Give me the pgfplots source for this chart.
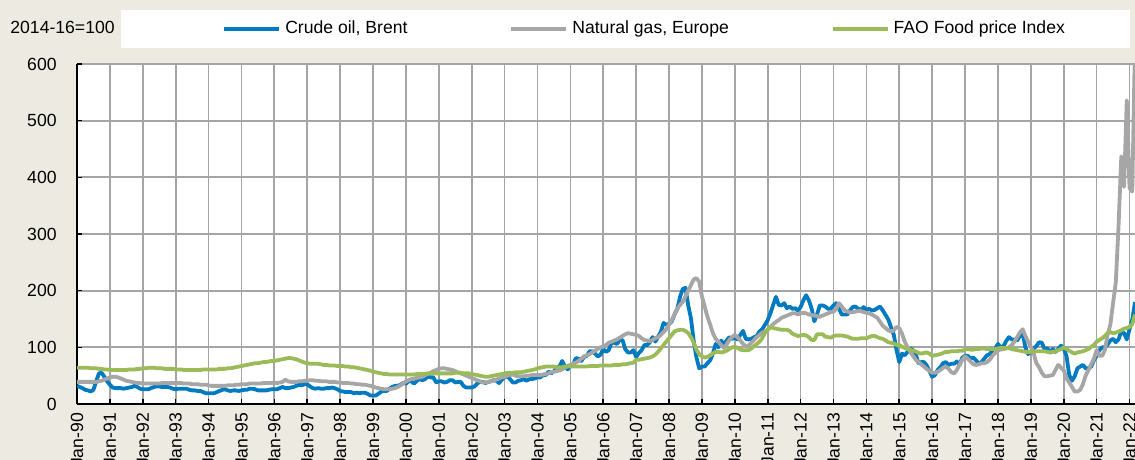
\documentclass[border=0pt]{standalone}
\usepackage{pgfplots}
\pgfplotsset{compat=1.18}
\usepackage{pgfplotstable}
\usepackage{fontspec}
\setmainfont{Liberation Sans}
\definecolor{bg}{RGB}{237,235,225}
\definecolor{oilc}{RGB}{0,122,192}
\definecolor{gasc}{RGB}{166,166,166}
\definecolor{foodc}{RGB}{155,187,89}
\definecolor{gridc}{RGB}{165,165,165}

% monthly values, Jan 1990 - Mar 2022 (one line per year)
\pgfplotstableread[row sep=\\]{
y\\
32\\30\\28\\25\\24\\22\\25\\40\\54\\55\\48\\40\\
34\\29\\28\\28\\28\\27\\28\\29\\30\\32\\30\\27\\
26\\26\\26\\28\\30\\31\\31\\30\\30\\30\\29\\27\\
26\\27\\27\\27\\27\\25\\24\\24\\23\\23\\21\\19\\
19\\19\\19\\21\\23\\25\\26\\24\\23\\24\\24\\23\\
24\\25\\25\\27\\27\\26\\24\\24\\24\\24\\25\\26\\
26\\26\\28\\30\\28\\28\\29\\30\\32\\34\\33\\35\\
35\\31\\28\\27\\28\\27\\27\\28\\28\\29\\28\\26\\
23\\22\\21\\21\\21\\19\\20\\19\\20\\20\\18\\15\\
15\\15\\18\\22\\23\\23\\27\\30\\32\\32\\34\\37\\
36\\40\\40\\36\\41\\44\\42\\44\\49\\47\\47\\38\\
40\\40\\38\\39\\42\\42\\38\\39\\39\\32\\29\\29\\
29\\31\\36\\39\\39\\37\\39\\40\\42\\41\\37\\43\\
47\\49\\44\\38\\38\\41\\42\\44\\41\\44\\44\\45\\
47\\47\\51\\51\\57\\54\\58\\64\\66\\76\\66\\61\\
68\\69\\81\\80\\76\\83\\85\\93\\93\\89\\84\\87\\
97\\92\\95\\108\\108\\106\\113\\113\\97\\91\\91\\95\\
83\\90\\95\\104\\104\\109\\118\\110\\119\\127\\143\\140\\
141\\146\\158\\168\\189\\203\\205\\174\\151\\111\\82\\63\\
66\\66\\72\\77\\89\\106\\100\\112\\105\\112\\118\\115\\
117\\114\\122\\129\\115\\114\\115\\118\\120\\128\\132\\140\\
148\\160\\175\\189\\175\\174\\178\\169\\172\\168\\169\\165\\
171\\183\\192\\183\\169\\146\\158\\174\\174\\172\\168\\168\\
174\\178\\168\\158\\158\\158\\165\\171\\172\\168\\166\\171\\
166\\168\\165\\166\\169\\172\\165\\157\\149\\135\\122\\95\\
74\\89\\86\\92\\98\\95\\88\\72\\74\\74\\68\\58\\
48\\51\\60\\65\\72\\74\\69\\71\\71\\75\\69\\82\\
85\\85\\80\\82\\77\\71\\74\\80\\86\\88\\95\\98\\
106\\100\\102\\111\\118\\114\\114\\112\\120\\125\\100\\88\\
92\\98\\102\\109\\108\\97\\98\\91\\97\\92\\97\\103\\
98\\85\\51\\41\\49\\63\\66\\69\\63\\63\\66\\77\\
85\\95\\100\\100\\105\\112\\115\\109\\114\\128\\125\\114\\
132\\149\\180\\
}\oil

\pgfplotstableread[row sep=\\]{
y\\
39\\39\\39\\39\\39\\39\\39\\39\\40\\41\\43\\45\\
47\\48\\48\\47\\45\\43\\41\\40\\39\\38\\37\\37\\
36\\36\\36\\36\\36\\36\\36\\37\\37\\37\\37\\37\\
37\\37\\37\\36\\36\\36\\35\\35\\35\\34\\34\\34\\
33\\32\\32\\32\\32\\32\\32\\33\\33\\33\\34\\34\\
35\\35\\35\\36\\36\\36\\36\\36\\37\\37\\37\\37\\
37\\37\\38\\39\\43\\40\\39\\39\\39\\40\\40\\41\\
41\\42\\42\\41\\41\\40\\40\\40\\39\\39\\39\\38\\
38\\37\\37\\37\\36\\36\\35\\35\\34\\34\\33\\32\\
31\\29\\28\\27\\26\\26\\26\\27\\28\\30\\33\\36\\
40\\42\\44\\45\\46\\47\\48\\51\\53\\55\\58\\60\\
62\\63\\63\\62\\61\\60\\58\\56\\54\\52\\50\\48\\
46\\44\\42\\40\\38\\38\\39\\40\\41\\43\\45\\47\\
48\\50\\51\\52\\50\\49\\49\\49\\50\\50\\51\\51\\
51\\51\\52\\53\\54\\56\\57\\58\\59\\61\\64\\67\\
69\\71\\73\\76\\80\\84\\86\\88\\91\\94\\97\\100\\
101\\104\\108\\110\\112\\114\\117\\120\\123\\125\\124\\123\\
122\\120\\116\\113\\112\\111\\113\\116\\118\\122\\127\\132\\
140\\148\\158\\168\\175\\180\\190\\200\\210\\220\\222\\216\\
190\\172\\154\\140\\125\\115\\110\\104\\99\\105\\113\\118\\
122\\118\\112\\106\\101\\103\\108\\113\\118\\122\\126\\128\\
131\\136\\141\\145\\148\\152\\154\\156\\158\\160\\160\\158\\
160\\161\\160\\158\\157\\156\\155\\154\\156\\158\\160\\162\\
163\\168\\178\\172\\166\\163\\162\\162\\163\\164\\164\\162\\
161\\160\\158\\155\\152\\145\\138\\134\\130\\128\\130\\136\\
134\\124\\110\\100\\92\\85\\78\\74\\70\\66\\62\\58\\
55\\55\\57\\60\\64\\66\\62\\56\\54\\60\\70\\78\\
84\\80\\75\\70\\69\\70\\72\\72\\74\\78\\85\\90\\
95\\96\\97\\98\\100\\104\\110\\118\\126\\132\\120\\110\\
101\\90\\72\\65\\55\\49\\49\\50\\51\\60\\69\\64\\
60\\45\\38\\30\\22\\22\\25\\35\\50\\60\\70\\80\\
95\\85\\85\\95\\122\\140\\178\\215\\315\\437\\383\\536\\
381\\375\\640\\
}\gas

\pgfplotstableread[row sep=\\]{
y\\
64\\64\\64\\64\\64\\63\\63\\63\\62\\62\\61\\61\\
60\\60\\60\\60\\60\\60\\60\\61\\61\\61\\62\\62\\
63\\63\\64\\64\\64\\63\\63\\63\\62\\62\\62\\62\\
61\\61\\61\\60\\60\\60\\60\\60\\60\\60\\61\\61\\
61\\61\\61\\61\\62\\62\\62\\63\\63\\64\\65\\66\\
67\\68\\69\\70\\71\\72\\72\\73\\74\\74\\75\\76\\
76\\77\\78\\79\\80\\81\\81\\80\\79\\77\\75\\73\\
72\\71\\71\\71\\71\\70\\69\\69\\68\\68\\68\\67\\
67\\67\\66\\66\\65\\65\\64\\63\\62\\61\\60\\59\\
57\\56\\55\\54\\53\\53\\52\\52\\52\\52\\52\\52\\
52\\52\\52\\52\\53\\53\\53\\53\\54\\54\\54\\54\\
54\\54\\54\\54\\54\\54\\55\\55\\55\\54\\54\\54\\
53\\52\\51\\50\\49\\48\\48\\49\\50\\51\\52\\53\\
54\\55\\55\\55\\56\\56\\56\\57\\58\\59\\60\\61\\
63\\64\\65\\66\\66\\66\\66\\65\\65\\65\\66\\66\\
66\\66\\66\\66\\66\\66\\66\\67\\67\\67\\67\\68\\
68\\68\\68\\68\\69\\69\\69\\70\\70\\71\\72\\73\\
78\\78\\79\\80\\81\\82\\84\\87\\92\\98\\104\\110\\
116\\122\\128\\130\\131\\131\\129\\125\\118\\108\\96\\88\\
84\\82\\83\\86\\89\\92\\92\\91\\92\\94\\97\\100\\
101\\99\\96\\95\\95\\95\\98\\102\\106\\110\\116\\126\\
131\\136\\134\\133\\132\\131\\131\\131\\129\\124\\122\\120\\
121\\122\\121\\118\\113\\113\\123\\123\\123\\119\\118\\117\\
120\\121\\121\\121\\120\\119\\117\\115\\115\\115\\116\\116\\
116\\118\\120\\120\\118\\116\\115\\112\\109\\108\\107\\104\\
104\\101\\99\\97\\96\\94\\93\\90\\89\\90\\91\\89\\
85\\86\\87\\88\\90\\92\\92\\93\\93\\93\\94\\94\\
96\\97\\96\\96\\97\\97\\98\\98\\97\\97\\97\\97\\
98\\99\\99\\99\\99\\97\\96\\95\\94\\93\\92\\92\\
92\\93\\93\\93\\93\\93\\92\\91\\92\\93\\95\\97\\
100\\97\\94\\91\\89\\91\\92\\93\\95\\97\\101\\104\\
110\\113\\116\\120\\125\\127\\125\\126\\128\\130\\133\\134\\
136\\141\\158\\
}\food

\begin{document}
\begin{tikzpicture}[font=\fontsize{8.8}{10.5}\selectfont]
\useasboundingbox (-38.5pt,-28pt) rectangle (529pt,202pt);
\clip (-38.5pt,-28pt) rectangle (529pt,202pt);
\fill[bg] (-38.5pt,-28pt) rectangle (529pt,202pt);
\fill[white] (22pt,178pt) rectangle (526.5pt,197pt);
\node[anchor=west, inner sep=0pt] at (-33.5pt,188.5pt) {2014-16=100};
\begin{axis}[
  at={(0pt,0pt)}, anchor=south west,
  scale only axis, width=529pt, height=170pt,
  xmin=0, xmax=386, ymin=0, ymax=600,
  axis background/.style={fill=white},
  axis x line=bottom, axis y line=left,
  axis line style={-, black, line width=1pt},
  xtick={0,12,...,384},
  xticklabels={Jan-90,Jan-91,Jan-92,Jan-93,Jan-94,Jan-95,Jan-96,Jan-97,Jan-98,Jan-99,Jan-00,Jan-01,Jan-02,Jan-03,Jan-04,Jan-05,Jan-06,Jan-07,Jan-08,Jan-09,Jan-10,Jan-11,Jan-12,Jan-13,Jan-14,Jan-15,Jan-16,Jan-17,Jan-18,Jan-19,Jan-20,Jan-21,Jan-22},
  ytick={0,100,...,600},
  grid=major, major grid style={gridc, line width=0.85pt},
  tick align=inside, major tick length=2.5pt,
  tick style={black, line width=0.8pt},
  xticklabel style={rotate=90, anchor=east, inner xsep=4.3pt, inner ysep=0pt},
  yticklabel style={anchor=east, inner xsep=10pt, inner ysep=0pt},
  /pgf/number format/assume math mode=true,
  ticklabel style={font=\fontsize{8.8}{10.5}\selectfont},
  legend columns=3,
  legend style={at={(0.1371,1.1029)}, anchor=west, draw=none, fill=none,
    inner sep=0pt, nodes={inner sep=0pt},
    font=\fontsize{8.8}{10.5}\selectfont,
    /tikz/every odd column/.append style={column sep=2pt},
    /tikz/every even column/.append style={column sep=51pt}},
  legend image code/.code={\draw[#1, line width=1.9pt] (0pt,0pt) -- (27.5pt,0pt);},
  every axis plot/.append style={line width=1.9pt, line join=round},
]
\addplot[oilc] table[x expr=\coordindex, y=y] {\oil};
\addlegendentry{Crude oil, Brent}
\addplot[gasc] table[x expr=\coordindex, y=y] {\gas};
\addlegendentry{Natural gas, Europe}
\addplot[foodc] table[x expr=\coordindex, y=y] {\food};
\addlegendentry{FAO Food price Index}
\end{axis}
\end{tikzpicture}
\end{document}
